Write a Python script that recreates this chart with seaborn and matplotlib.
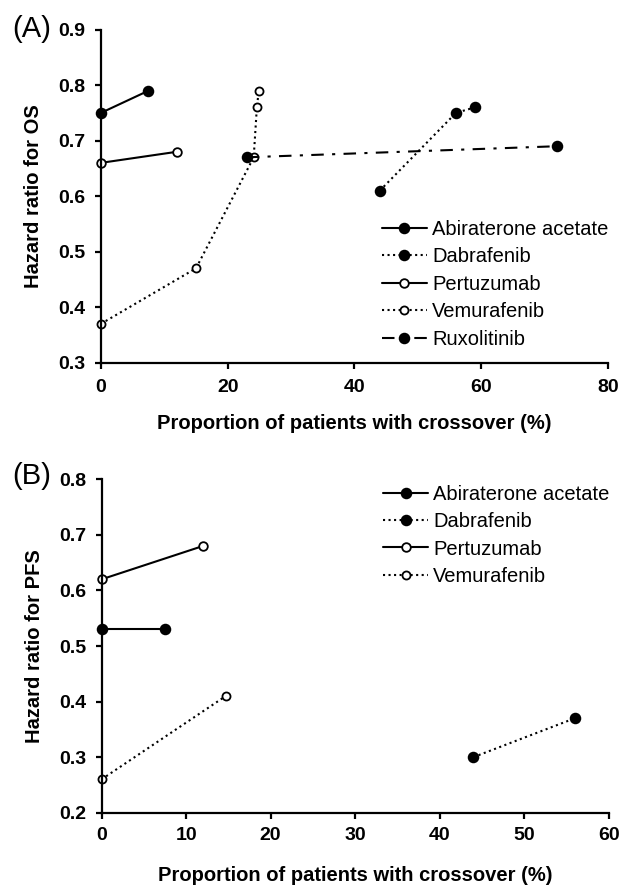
import matplotlib
matplotlib.use("Agg")
import matplotlib.pyplot as plt
import seaborn as sns
import pandas as pd

# Panel A - hazard ratio for OS
os_drugs = ["Abiraterone acetate", "Dabrafenib", "Pertuzumab", "Vemurafenib", "Ruxolitinib"]
os_x = {
    "Abiraterone acetate": [0, 7.5],
    "Dabrafenib": [44, 56, 59],
    "Pertuzumab": [0, 12],
    "Vemurafenib": [0, 15, 24.1, 24.6, 24.9],
    "Ruxolitinib": [23, 72],
}
os_hr = {
    "Abiraterone acetate": [0.75, 0.79],
    "Dabrafenib": [0.61, 0.75, 0.76],
    "Pertuzumab": [0.66, 0.68],
    "Vemurafenib": [0.37, 0.47, 0.67, 0.76, 0.79],
    "Ruxolitinib": [0.67, 0.69],
}

# Panel B - hazard ratio for PFS
pfs_drugs = ["Abiraterone acetate", "Dabrafenib", "Pertuzumab", "Vemurafenib"]
pfs_x = {
    "Abiraterone acetate": [0, 7.5],
    "Dabrafenib": [44, 56],
    "Pertuzumab": [0, 12],
    "Vemurafenib": [0, 14.7],
}
pfs_hr = {
    "Abiraterone acetate": [0.53, 0.53],
    "Dabrafenib": [0.30, 0.37],
    "Pertuzumab": [0.62, 0.68],
    "Vemurafenib": [0.26, 0.41],
}

os_xticks = [0, 20, 40, 60, 80]
os_yticks = [0.3, 0.4, 0.5, 0.6, 0.7, 0.8, 0.9]
pfs_xticks = [0, 10, 20, 30, 40, 50, 60]
pfs_yticks = [0.2, 0.3, 0.4, 0.5, 0.6, 0.7, 0.8]

styles = {
    "Abiraterone acetate": dict(ls="-", mfc="black", ms=7),
    "Dabrafenib": dict(ls=":", mfc="black", ms=7),
    "Pertuzumab": dict(ls="-", mfc="white", ms=6.2),
    "Vemurafenib": dict(ls=":", mfc="white", ms=5.8),
    "Ruxolitinib": dict(ls=(0, (6, 4, 1.5, 4)), mfc="black", ms=7),
}

sns.set_theme(style="ticks")
plt.rcParams["font.family"] = ["Liberation Sans", "DejaVu Sans"]
plt.rcParams["text.color"] = "black"
plt.rcParams["axes.labelcolor"] = "black"

fig = plt.figure(figsize=(6.23, 8.85), dpi=100)
axA = fig.add_axes([0.162, 0.5902, 0.814, 0.3763])
axB = fig.add_axes([0.163, 0.0817, 0.814, 0.3767])


def draw(ax, drugs, xs, ys):
    for d in drugs:
        df = pd.DataFrame({"x": xs[d], "y": ys[d]})
        st = styles[d]
        sns.lineplot(data=df, x="x", y="y", ax=ax, sort=False, estimator=None,
                     color="black", linewidth=1.5, linestyle=st["ls"],
                     marker="o", markersize=st["ms"], markerfacecolor=st["mfc"],
                     markeredgecolor="black", markeredgewidth=1.3,
                     label=d, clip_on=False)
    for s in ["top", "right"]:
        ax.spines[s].set_visible(False)
    for s in ["left", "bottom"]:
        ax.spines[s].set_linewidth(1.6)
        ax.spines[s].set_color("black")
    ax.tick_params(axis="both", direction="out", length=4, width=1.6,
                   colors="black", labelsize=14)
    ax.tick_params(axis="y", pad=7)


def finish(ax, xticks, yticks, ylabel, xpad, labelpad, leg_xy):
    ax.set_xlim(xticks[0], xticks[-1])
    ax.set_ylim(yticks[0], yticks[-1])
    ax.set_xticks(xticks)
    ax.set_yticks(yticks)
    ax.set_xticklabels([str(v) for v in xticks], fontweight="bold")
    ax.set_yticklabels([f"{v:.1f}" for v in yticks], fontweight="bold")
    ax.tick_params(axis="x", pad=xpad)
    ax.set_xlabel("Proportion of patients with crossover (%)", fontsize=14.5,
                  fontweight="bold", labelpad=labelpad)
    ax.set_ylabel(ylabel, fontsize=14.5, fontweight="bold", labelpad=11)
    ax.legend(loc="upper left", bbox_to_anchor=leg_xy, bbox_transform=fig.transFigure,
              frameon=False, fontsize=14.5, handlelength=2.25, handletextpad=0.25,
              labelspacing=0.42, borderpad=0, borderaxespad=0, numpoints=1)


draw(axA, os_drugs, os_x, os_hr)
finish(axA, os_xticks, os_yticks, "Hazard ratio for OS", 8, 13, (0.6127, 0.7517))

draw(axB, pfs_drugs, pfs_x, pfs_hr)
finish(axB, pfs_xticks, pfs_yticks, "Hazard ratio for PFS", 6, 16, (0.6148, 0.4524))

fig.text(0.019, 0.967, "(A)", fontsize=21, va="center", ha="left")
fig.text(0.019, 0.462, "(B)", fontsize=21, va="center", ha="left")

fig.savefig("out.png", dpi=100)
